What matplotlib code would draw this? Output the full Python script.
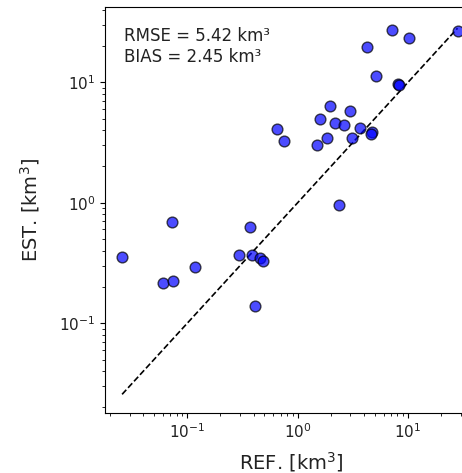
import matplotlib
matplotlib.use('Agg')
import matplotlib.pyplot as plt

# reference vs estimated volumes [km3]
ref = [28.1, 7.18, 10.1, 4.28, 5.09, 8.08, 8.2, 1.97, 2.99, 1.61, 2.19, 2.63,
       0.652, 3.66, 4.69, 4.6, 0.753, 1.83, 3.14, 1.49, 2.38, 0.0727, 0.373,
       0.0257, 0.295, 0.388, 0.46, 0.482, 0.117, 0.0604, 0.0748, 0.408]
est = [26.4, 27.3, 23.2, 19.6, 11.3, 9.72, 9.5, 6.30, 5.80, 4.91, 4.58, 4.46,
       4.08, 4.19, 3.85, 3.75, 3.23, 3.48, 3.48, 3.03, 0.95, 0.687, 0.624,
       0.358, 0.365, 0.365, 0.35, 0.33, 0.293, 0.216, 0.224, 0.138]
rmse = 5.42
bias = 2.45

fig = plt.figure(figsize=(4.62, 4.73), dpi=100)
ax = fig.add_axes([105/462, 60/473, 372/462, 406/473])

ax.scatter(ref, est, s=60, c='blue', alpha=0.7, edgecolor='black', zorder=3)

vmin = min(min(ref), min(est))
vmax = max(max(ref), max(est))
ax.plot([vmin, vmax], [vmin, vmax], 'k--', lw=1.2, zorder=2)

ax.set_xscale('log')
ax.set_yscale('log')
ax.set_xlim(vmin * 0.7, vmax * 1.5)
ax.set_ylim(vmin * 0.7, vmax * 1.5)
ax.tick_params(labelsize=11, labelcolor='#222222')

ax.text(0.05, 0.95, 'RMSE = %.2f km³\nBIAS = %.2f km³' % (rmse, bias),
        transform=ax.transAxes, va='top', ha='left', fontsize=12, color='#222222')

ax.set_xlabel('REF. [km$^3$]', fontsize=14, color='#222222', labelpad=6)
ax.set_ylabel('EST. [km$^3$]', fontsize=14, color='#222222', labelpad=12)

fig.savefig('out.png', dpi=100)
